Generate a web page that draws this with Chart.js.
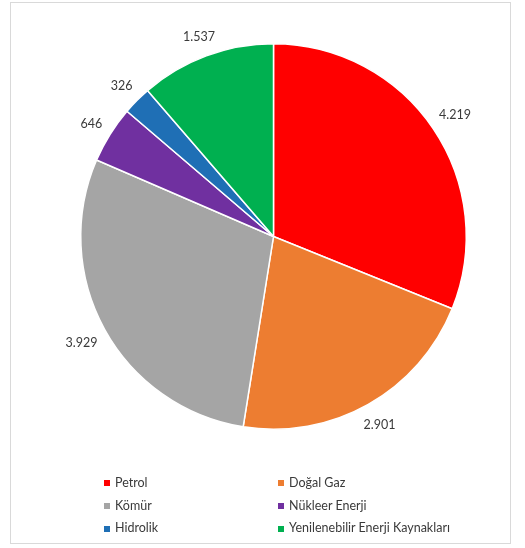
<!DOCTYPE html>
<html>
<head>
<meta charset="utf-8">
<script src="https://cdn.jsdelivr.net/npm/chart.js@4"></script>
<style>
  html, body { margin: 0; padding: 0; background: #fff; }
  body { width: 525px; height: 548px; position: relative; overflow: hidden; font-family: Lato, "Open Sans", sans-serif; }
  .frame { position: absolute; left: 10px; top: 2px; width: 501px; height: 542px; border: 1px solid #d9d9d9; box-sizing: border-box; }
  #pie { position: absolute; left: 0; top: 0; }
  .legend { position: absolute; left: 104px; top: 476px; width: 340px; display: grid; grid-template-columns: 174px 200px; row-gap: 8px; }
  .legend div { font-size: 12.5px; color: #3a3a3a; line-height: 14.7px; white-space: nowrap; display: flex; align-items: center; }
  .legend span { display: inline-block; width: 6px; height: 6px; margin-right: 5px; }
</style>
</head>
<body>
<div class="frame"></div>
<canvas id="pie" width="525" height="548"></canvas>
<div class="legend" id="legend"></div>
<script>
/* ========================================
   DADOS
   ======================================== */
const kategoriler = ['Petrol', 'Doğal Gaz', 'Kömür', 'Nükleer Enerji', 'Hidrolik', 'Yenilenebilir Enerji Kaynakları'];
const degerler = [4219, 2901, 3929, 646, 326, 1537];
const renkler = ['#FF0000', '#ED7D31', '#A5A5A5', '#7030A0', '#1F6FB5', '#00B050'];

// 4219 -> "4.219"
function formatla(v) {
  return String(v).replace(/\B(?=(\d{3})+(?!\d))/g, '.');
}

/* ========================================
   ETIKETLER - dilimlerin dışında (outside end)
   ======================================== */
const disEtiketler = {
  id: 'disEtiketler',
  afterDatasetsDraw(chart) {
    const ctx = chart.ctx;
    const meta = chart.getDatasetMeta(0);
    ctx.save();
    ctx.font = '12.5px Lato, "Open Sans", sans-serif';
    ctx.fillStyle = '#3a3a3a';
    ctx.textAlign = 'center';
    ctx.textBaseline = 'middle';
    meta.data.forEach((arc, i) => {
      const p = arc.getProps(['x', 'y', 'startAngle', 'endAngle', 'outerRadius'], true);
      const orta = (p.startAngle + p.endAngle) / 2;
      const txt = formatla(degerler[i]);
      const w = ctx.measureText(txt).width;
      const cx = Math.cos(orta), cy = Math.sin(orta);
      // kutunun yarısı kadar dışarı it, sonra sabit boşluk
      const uzanti = Math.abs(cx) * w / 2 + Math.abs(cy) * 7;
      const r = p.outerRadius + 9 + uzanti;
      ctx.fillText(txt, p.x + cx * r, p.y + cy * r + 1);
    });
    ctx.restore();
  }
};

new Chart(document.getElementById('pie'), {
  type: 'pie',
  data: {
    labels: kategoriler,
    datasets: [{
      data: degerler,
      backgroundColor: renkler,
      borderColor: '#ffffff',
      borderWidth: 1.5
    }]
  },
  options: {
    responsive: false,
    animation: false,
    layout: { padding: { left: 80, top: 43, right: 58, bottom: 118 } },
    plugins: {
      legend: { display: false },
      tooltip: { enabled: false }
    }
  },
  plugins: [disEtiketler]
});

/* ========================================
   LEGEND
   ======================================== */
const legend = document.getElementById('legend');
kategoriler.forEach((k, i) => {
  const d = document.createElement('div');
  d.innerHTML = '<span style="background:' + renkler[i] + '"></span>' + k;
  legend.appendChild(d);
});
</script>
</body>
</html>
